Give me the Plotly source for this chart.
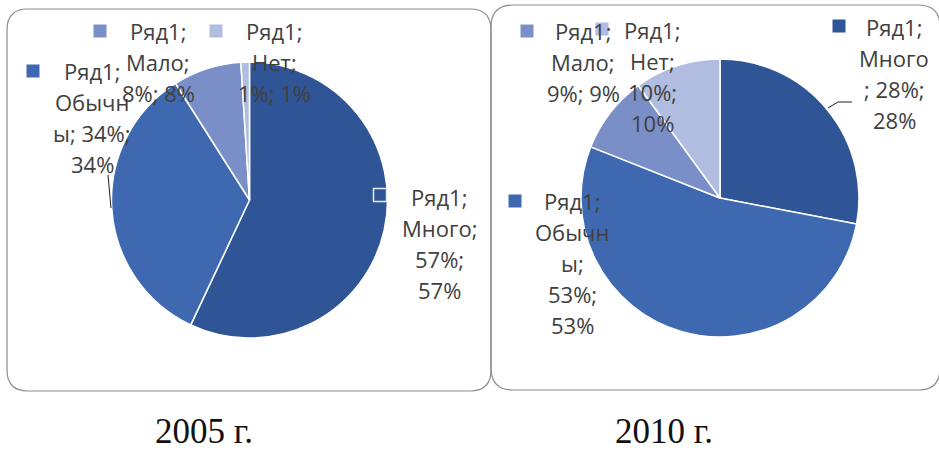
import plotly.graph_objects as go

W, H = 939, 450

# ---- data ----
series_name = "Ряд1"
categories = ["Много", "Обычны", "Мало", "Нет"]
values_2005 = [57, 34, 8, 1]
values_2010 = [28, 53, 9, 10]
year_labels = ["2005 г.", "2010 г."]
colors = ["#2F5597", "#3E69B0", "#7A8FC8", "#B0BDE0"]

# ---- layout helpers (pixel -> paper) ----
def X(px):
    return px / W

def Y(py):
    return 1 - py / H

def cut_lines(text, counts):
    lines = []
    rest = text
    for c in counts:
        rest = rest.strip()
        lines.append(rest[:c])
        rest = rest[c:]
    rest = rest.strip()
    if rest:
        lines.append(rest)
    return lines

# pie geometry: (cx, cy, r) in pixels
pies = [(249.5, 200, 138), (720, 198, 139)]

# label layout per chart per category: square center, text center x, first line y, line cut counts
label_layout = [
    {
        "Много": ((380, 195), 439, 197, [5, 6, 4]),
        "Обычны": ((33, 71), 92, 71, [5, 5, 7]),
        "Мало": ((100, 31), 158, 31, [5, 5]),
        "Нет": ((216, 31), 274, 31, [5, 4]),
    },
    {
        "Много": ((839, 26), 894, 27, [5, 5, 6]),
        "Обычны": ((515, 201), 572, 201, [5, 5, 2, 4]),
        "Мало": ((527, 31), 583, 31, [5, 5]),
        "Нет": ((602, 29), 652, 30, [5, 4, 4]),
    },
]
line_step = 31

fig = go.Figure()

all_values = [values_2005, values_2010]
for (cx, cy, r), vals in zip(pies, all_values):
    fig.add_trace(go.Pie(
        labels=categories,
        values=vals,
        sort=False,
        direction="clockwise",
        rotation=0,
        marker=dict(colors=colors, line=dict(color="white", width=1.5)),
        textinfo="none",
        hoverinfo="label+percent",
        showlegend=False,
        domain=dict(x=[X(cx - r), X(cx + r)], y=[Y(cy + r), Y(cy - r)]),
    ))

shapes = []
annotations = []

def rounded_rect(x0, y0, x1, y1, rad):
    p = (f"M {X(x0 + rad)},{Y(y0)} L {X(x1 - rad)},{Y(y0)} "
         f"Q {X(x1)},{Y(y0)} {X(x1)},{Y(y0 + rad)} "
         f"L {X(x1)},{Y(y1 - rad)} Q {X(x1)},{Y(y1)} {X(x1 - rad)},{Y(y1)} "
         f"L {X(x0 + rad)},{Y(y1)} Q {X(x0)},{Y(y1)} {X(x0)},{Y(y1 - rad)} "
         f"L {X(x0)},{Y(y0 + rad)} Q {X(x0)},{Y(y0)} {X(x0 + rad)},{Y(y0)} Z")
    return dict(type="path", path=p, xref="paper", yref="paper",
                line=dict(color="#8C8C8C", width=1.2), fillcolor="rgba(0,0,0,0)",
                layer="below")

shapes.append(rounded_rect(7, 9, 491, 391, 21))
shapes.append(rounded_rect(491, 5, 940, 390, 22))

sq = 6.5
for ci, (layout_map, vals) in enumerate(zip(label_layout, all_values)):
    for k, cat in enumerate(categories):
        (sx, sy), tx, ty, counts = layout_map[cat]
        full = f"{series_name}; {cat}; {vals[k]}%; {vals[k]}%"
        lines = cut_lines(full, counts)
        over_pie = (ci == 0 and cat == "Много")
        shapes.append(dict(
            type="rect", xref="paper", yref="paper",
            x0=X(sx - sq), x1=X(sx + sq), y0=Y(sy + sq), y1=Y(sy - sq),
            fillcolor=colors[k],
            line=dict(color="#E8ECF5" if over_pie else colors[k], width=1.5 if over_pie else 0),
        ))
        for li, line in enumerate(lines):
            annotations.append(dict(
                x=X(tx), y=Y(ty + li * line_step), xref="paper", yref="paper",
                text=line, showarrow=False, xanchor="center", yanchor="middle",
                font=dict(family="Open Sans", size=22, color="#404040"),
            ))

# leader lines
shapes.append(dict(type="path", xref="paper", yref="paper",
                   path=f"M {X(108)},{Y(175)} L {X(111)},{Y(208)}",
                   line=dict(color="#202020", width=1)))
shapes.append(dict(type="path", xref="paper", yref="paper",
                   path=f"M {X(852)},{Y(102)} L {X(838)},{Y(102)} L {X(828)},{Y(108)}",
                   line=dict(color="#202020", width=1)))

# year captions
for lab, cx in zip(year_labels, [204, 664]):
    annotations.append(dict(
        x=X(cx), y=Y(431), xref="paper", yref="paper", text=lab, showarrow=False,
        xanchor="center", yanchor="middle", borderpad=0,
        font=dict(family="Liberation Serif", size=35, color="#111111"),
    ))

fig.update_layout(
    width=W, height=H,
    margin=dict(l=0, r=0, t=0, b=0),
    paper_bgcolor="white", plot_bgcolor="white",
    shapes=shapes, annotations=annotations,
)

fig.write_html(
    "out.html",
    config={"displayModeBar": False},
    post_script="document.body.style.margin='0';document.body.style.overflow='hidden';",
)
